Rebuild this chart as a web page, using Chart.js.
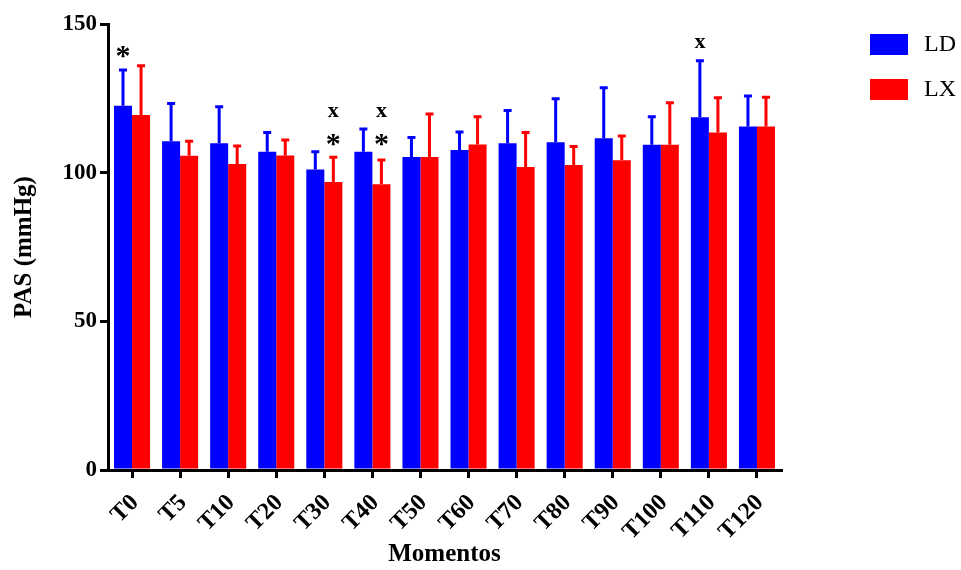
<!DOCTYPE html>
<html>
<head>
<meta charset="utf-8">
<script src="https://cdn.jsdelivr.net/npm/chart.js@4/dist/chart.umd.min.js"></script>
<style>
  html, body { margin: 0; padding: 0; background: #fff; }
  #wrap { width: 961px; height: 570px; }
</style>
</head>
<body>
<div id="wrap"><canvas id="chart" width="961" height="570"></canvas></div>
<script>
const moments = ['T0', 'T5', 'T10', 'T20', 'T30', 'T40', 'T50', 'T60', 'T70', 'T80', 'T90', 'T100', 'T110', 'T120'];

const ldMean = [122.5, 110.6, 109.9, 107.0, 101.1, 107.0, 105.3, 107.6, 109.9, 110.2, 111.6, 109.4, 118.6, 115.5];
const ldSd = [12.0, 12.7, 12.3, 6.5, 5.9, 7.7, 6.5, 6.1, 11.0, 14.7, 17.0, 9.4, 19.0, 10.3];

const lxMean = [119.4, 105.7, 102.9, 105.8, 96.9, 96.1, 105.3, 109.5, 101.9, 102.6, 104.2, 109.4, 113.5, 115.5];
const lxSd = [16.6, 4.9, 6.1, 5.2, 8.3, 8.2, 14.4, 9.3, 11.6, 6.2, 8.1, 14.1, 11.7, 9.9];

const yTicks = [0, 50, 100, 150];

// significance marks: [category index, dataset index, symbol, y value]
const marks = [
  [0, 0, '*', 141],
  [4, 1, 'x', 120.5],
  [4, 1, '*', 111.2],
  [5, 1, 'x', 120.5],
  [5, 1, '*', 111.2],
  [12, 0, 'x', 143.7]
];

const SERIF = '"Liberation Serif", "Times New Roman", serif';

const errorBars = {
  id: 'errorBars',
  afterDatasetsDraw(chart) {
    const ctx = chart.ctx;
    const y = chart.scales.y;
    chart.data.datasets.forEach((ds, i) => {
      const meta = chart.getDatasetMeta(i);
      meta.data.forEach((bar, j) => {
        const top = y.getPixelForValue(ds.data[j] + ds.sd[j]);
        ctx.save();
        ctx.strokeStyle = ds.backgroundColor;
        ctx.lineWidth = 3;
        ctx.beginPath();
        ctx.moveTo(bar.x, bar.y);
        ctx.lineTo(bar.x, top);
        ctx.moveTo(bar.x - 4, top);
        ctx.lineTo(bar.x + 4, top);
        ctx.stroke();
        ctx.restore();
      });
    });
  }
};

const sigMarks = {
  id: 'sigMarks',
  afterDraw(chart) {
    const ctx = chart.ctx;
    const y = chart.scales.y;
    marks.forEach(([cat, dsIdx, sym, val]) => {
      const bar = chart.getDatasetMeta(dsIdx).data[cat];
      ctx.save();
      ctx.fillStyle = '#000';
      ctx.textAlign = 'center';
      ctx.textBaseline = 'middle';
      if (sym === '*') {
        ctx.font = 'bold 30px ' + SERIF;
        ctx.fillText(sym, bar.x, y.getPixelForValue(val) + 6);
      } else {
        ctx.font = 'bold 22px ' + SERIF;
        ctx.fillText(sym, bar.x, y.getPixelForValue(val));
      }
      ctx.restore();
    });
  }
};

const boxLegend = {
  id: 'boxLegend',
  afterDraw(chart) {
    const ctx = chart.ctx;
    chart.data.datasets.forEach((ds, i) => {
      const top = 34 + i * 45;
      ctx.save();
      ctx.fillStyle = ds.backgroundColor;
      ctx.fillRect(870, top, 38, 21);
      ctx.fillStyle = '#000';
      ctx.font = '24px ' + SERIF;
      ctx.textAlign = 'left';
      ctx.textBaseline = 'middle';
      ctx.fillText(ds.label, 924, top + 11);
      ctx.restore();
    });
  }
};

new Chart(document.getElementById('chart'), {
  type: 'bar',
  data: {
    labels: moments,
    datasets: [
      { label: 'LD', data: ldMean, sd: ldSd, backgroundColor: '#0000FF' },
      { label: 'LX', data: lxMean, sd: lxSd, backgroundColor: '#FF0000' }
    ]
  },
  options: {
    responsive: false,
    animation: false,
    layout: { padding: { top: 24, right: 180, left: 0, bottom: 0 } },
    datasets: {
      bar: { categoryPercentage: 0.75, barPercentage: 1.0 }
    },
    plugins: {
      legend: { display: false },
      tooltip: { enabled: false }
    },
    scales: {
      x: {
        grid: {
          offset: false,
          drawOnChartArea: false,
          drawTicks: true,
          tickLength: 8,
          color: '#000',
          lineWidth: 3
        },
        border: { color: '#000', width: 3 },
        ticks: {
          color: '#000',
          font: { family: SERIF, size: 24, weight: 'bold' },
          minRotation: 45,
          maxRotation: 45,
          padding: 11,
          labelOffset: 3
        },
        title: {
          display: true,
          text: 'Momentos',
          color: '#000',
          font: { family: SERIF, size: 25, weight: 'bold' },
          padding: { top: 4, bottom: 0 }
        },
        afterFit(scale) { scale.height = 100; }
      },
      y: {
        min: 0,
        max: 150,
        afterBuildTicks(scale) { scale.ticks = yTicks.map((v) => ({ value: v })); },
        grid: {
          drawOnChartArea: false,
          drawTicks: true,
          tickLength: 8,
          color: '#000',
          lineWidth: 3
        },
        border: { color: '#000', width: 3 },
        ticks: {
          color: '#000',
          font: { family: SERIF, size: 23, weight: 'bold' },
          padding: 3
        },
        title: {
          display: true,
          text: 'PAS (mmHg)',
          color: '#000',
          font: { family: SERIF, size: 25, weight: 'bold' },
          padding: { top: 10, bottom: 4 }
        },
        afterFit(scale) { scale.width = 108; }
      }
    }
  },
  plugins: [errorBars, sigMarks, boxLegend]
});
</script>
</body>
</html>
